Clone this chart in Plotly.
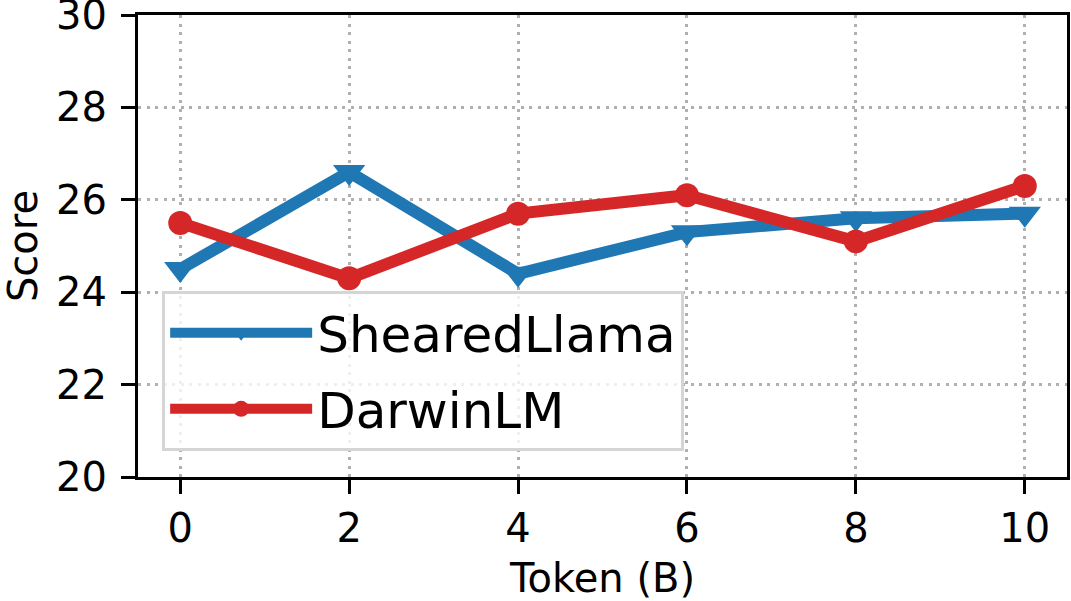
import plotly.graph_objects as go

tokens = [0, 2, 4, 6, 8, 10]
sheared_llama = [24.5, 26.6, 24.4, 25.3, 25.6, 25.7]
darwin_lm = [25.5, 24.3, 25.7, 26.1, 25.1, 26.3]
x_ticks = [0, 2, 4, 6, 8, 10]
y_ticks = [20, 22, 24, 26, 28, 30]

FONT = "DejaVu Sans"

fig = go.Figure()
fig.add_trace(go.Scatter(
    x=tokens, y=sheared_llama, name="ShearedLlama", mode="lines+markers",
    line=dict(color="#1f77b4", width=12),
    marker=dict(symbol="triangle-down", size=28, color="#1f77b4"),
    legendgroup="a",
))
fig.add_trace(go.Scatter(
    x=tokens, y=darwin_lm, name="DarwinLM", mode="lines+markers",
    line=dict(color="#d62728", width=12),
    marker=dict(symbol="circle", size=24, color="#d62728"),
    legendgroup="b",
))

axis_common = dict(
    showline=True, mirror=True, linecolor="black", linewidth=3,
    ticks="outside", ticklen=14, tickwidth=3, tickcolor="black",
    showgrid=True, gridcolor="#b0b0b0", gridwidth=2.5, griddash="3px,5.5px",
    zeroline=False, ticklabeloverflow="allow", automargin=False,
    tickfont=dict(family=FONT, size=40, color="black"),
)

fig.update_xaxes(
    range=[-0.5, 10.5], tickvals=x_ticks, ticktext=[str(v) for v in x_ticks],
    title=dict(text="Token (B)", font=dict(family=FONT, size=40, color="black"), standoff=26),
    ticklabelstandoff=0,
    **axis_common,
)
fig.update_yaxes(
    range=[20, 30], tickvals=y_ticks, ticktext=[str(v) for v in y_ticks],
    title=dict(text="Score", font=dict(family=FONT, size=40, color="black"), standoff=22),
    ticklabelstandoff=6,
    **axis_common,
)

fig.update_layout(
    width=1071, height=601,
    margin=dict(l=138, r=4, t=15, b=124),
    plot_bgcolor="white", paper_bgcolor="white",
    font=dict(family=FONT, color="black"),
    showlegend=True,
    legend=dict(
        x=0.026, y=0.403, xanchor="left", yanchor="top",
        bgcolor="rgba(255,255,255,0.8)", bordercolor="#d5d5d5", borderwidth=3,
        font=dict(family=FONT, size=50, color="black"),
        tracegroupgap=8, itemwidth=142,
    ),
)

fig.write_html("out.html")
